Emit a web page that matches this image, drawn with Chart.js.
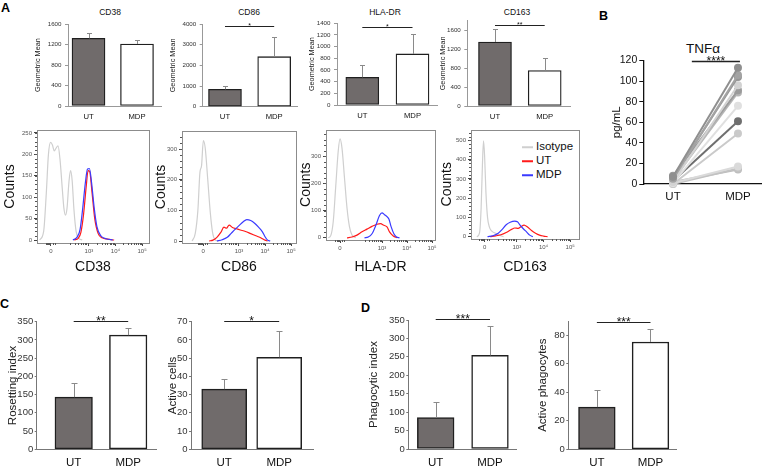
<!DOCTYPE html>
<html>
<head>
<meta charset="utf-8">
<script src="https://cdn.jsdelivr.net/npm/chart.js@4.4.1/dist/chart.umd.min.js"></script>
<style>
body { margin:0; width:771px; height:468px; position:relative; background:#fff; overflow:hidden;
  font-family:"Liberation Sans", Arial, sans-serif; color:#111; }
.cv { position:absolute; }
.t { position:absolute; transform:translate(-50%,-50%); white-space:nowrap; line-height:1; color:#111; }
.panel { position:absolute; font-weight:bold; font-size:12.5px; line-height:1; color:#000; }
.leg { position:absolute; font-size:11.5px; line-height:1; white-space:nowrap; transform:translateY(-50%); color:#111; }
.leg i { display:inline-block; width:11px; height:2px; vertical-align:middle; margin-right:3px; }
</style>
</head>
<body>
<div class="panel" style="left:1px;top:2px">A</div>
<div class="panel" style="left:599px;top:10px">B</div>
<div class="panel" style="left:0px;top:298px">C</div>
<div class="panel" style="left:361px;top:302px">D</div>

<div class="t" style="left:110px;top:12px;font-size:8.5px">CD38</div>
<div class="t" style="left:249px;top:12px;font-size:8.5px">CD86</div>
<div class="t" style="left:385px;top:12px;font-size:8.5px">HLA-DR</div>
<div class="t" style="left:517px;top:12px;font-size:8.5px">CD163</div>
<div class="t" style="left:703px;top:49px;font-size:13.5px">TNFα</div>

<div class="leg" style="left:522px;top:147px"><i style="background:#cfcfcf"></i>Isotype</div>
<div class="leg" style="left:522px;top:161px"><i style="background:#ff1a1a"></i>UT</div>
<div class="leg" style="left:522px;top:175px"><i style="background:#3a3aff"></i>MDP</div>

<script>
Chart.defaults.font.family = '"Liberation Sans", Arial, sans-serif';
Chart.defaults.color = '#333';

var groups = ['UT', 'MDP'];

// A - geometric mean (mean, upper error)
var cd38Mean = [1325, 1215], cd38Err = [110, 80];
var cd86Mean = [840, 2420], cd86Err = [160, 940];
var hladrMean = [475, 875], hladrErr = [210, 340];
var cd163Mean = [1350, 750], cd163Err = [265, 255];

// A - histograms, [position on biexp axis (10^3 = 3), counts]
var flowTickLabels = ['0', '10\u00b3', '10\u2074', '10\u2075'];
var cd38Iso = [[1.15,0],[1.3,20],[1.4,110],[1.48,200],[1.56,228],[1.63,222],[1.7,208],[1.77,215],[1.84,220],[1.92,185],[2.0,120],[2.06,75],[2.12,58],[2.18,75],[2.25,135],[2.31,162],[2.37,140],[2.44,70],[2.52,20],[2.62,4],[2.75,0]];
var cd38UT = [[2.45,0],[2.6,4],[2.7,18],[2.8,60],[2.9,125],[2.97,162],[3.03,160],[3.12,110],[3.22,50],[3.35,15],[3.5,5],[3.7,2],[3.95,0]];
var cd38MDP = [[2.4,0],[2.55,6],[2.67,25],[2.77,75],[2.87,135],[2.95,166],[3.02,167],[3.1,135],[3.2,75],[3.3,32],[3.45,10],[3.65,3],[3.9,0]];
var cd86Iso = [[1.2,0],[1.32,25],[1.42,100],[1.5,225],[1.56,245],[1.63,328],[1.7,305],[1.8,200],[1.9,90],[1.98,30],[2.08,4],[2.2,0]];
var cd86UT = [[1.85,0],[2.0,3],[2.15,12],[2.3,28],[2.42,45],[2.52,42],[2.62,52],[2.75,44],[2.9,40],[3.05,36],[3.25,31],[3.45,24],[3.65,17],[3.85,10],[4.0,3],[4.1,0]];
var cd86MDP = [[2.15,0],[2.35,4],[2.55,12],[2.7,25],[2.85,38],[3.0,50],[3.15,62],[3.3,70],[3.45,67],[3.6,58],[3.75,45],[3.9,30],[4.0,14],[4.1,3],[4.2,0]];
var hladrIso = [[0.85,0],[0.95,8],[1.05,60],[1.15,190],[1.25,320],[1.32,364],[1.4,330],[1.5,220],[1.6,110],[1.7,40],[1.8,10],[1.95,0]];
var hladrUT = [[1.6,0],[1.8,3],[2.0,10],[2.2,22],[2.4,32],[2.6,42],[2.8,50],[2.95,52],[3.05,47],[3.2,40],[3.3,22],[3.45,7],[3.6,0]];
var hladrMDP = [[2.3,0],[2.45,3],[2.6,15],[2.75,45],[2.9,82],[3.0,92],[3.1,85],[3.2,78],[3.28,68],[3.36,42],[3.48,14],[3.58,3],[3.7,0]];
var cd163Iso = [[1.5,0],[1.6,20],[1.66,150],[1.71,380],[1.75,497],[1.79,420],[1.84,230],[1.9,100],[1.97,50],[2.05,30],[2.2,18],[2.35,8],[2.5,0]];
var cd163UT = [[2.0,0],[2.2,4],[2.4,10],[2.6,22],[2.8,38],[2.92,45],[3.05,43],[3.15,52],[3.27,60],[3.4,50],[3.55,32],[3.7,18],[3.85,8],[4.0,3],[4.15,0]];
var cd163MDP = [[1.9,0],[2.1,5],[2.3,18],[2.45,38],[2.6,62],[2.75,75],[2.92,81],[3.02,78],[3.12,60],[3.25,40],[3.37,24],[3.48,8],[3.6,0]];

// B - TNFa pg/mL, one pair per donor
var tnfUT = [7, 5, 6, 2, 8, 4, 1, 3, 0, 1, 0, 2];
var tnfMDP = [113, 106, 104, 96, 91, 89, 76, 61, 49, 17, 15, 14];

// C / D
var rosetMean = [143, 313], rosetErr = [40, 21];
var activeMean = [33, 50.5], activeErr = [5.5, 14.5];
var phagoMean = [85, 254], phagoErr = [42, 80];
var activePhMean = [29.6, 75.3], activePhErr = [12, 9];

var utFill = '#706b6b';
var tnfShade = ['#8f8f8f','#a3a3a3','#959595','#d2d2d2','#9b9b9b','#b5b5b5','#e0e0e0','#6f6f6f','#cacaca','#dadada','#c2c2c2','#bcbcbc'];

function addCanvas(box) {
    var c = document.createElement('canvas');
    c.className = 'cv';
    c.style.left = box[0] + 'px';
    c.style.top = box[1] + 'px';
    c.width = box[2] - box[0];
    c.height = box[3] - box[1];
    c.style.width = c.width + 'px';
    c.style.height = c.height + 'px';
    document.body.appendChild(c);
    return c;
}

function margins(box, p) {
    return [p[0] - box[0], p[1] - box[1], box[2] - p[2], box[3] - p[3]];
}

// error bars + significance line
var barExtras = {
    id: 'barExtras',
    afterDatasetsDraw: function (chart, args, o) {
        var ctx = chart.ctx, xs = chart.scales.x, ys = chart.scales.y;
        ctx.save();
        if (o.mean) {
            ctx.strokeStyle = '#8a8a8a';
            ctx.lineWidth = 1;
            ctx.beginPath();
            o.mean.forEach(function (v, i) {
                var x = Math.round(xs.getPixelForValue(i)) + 0.5;
                var yTop = Math.round(ys.getPixelForValue(v + o.err[i])) + 0.5;
                ctx.moveTo(x, ys.getPixelForValue(v));
                ctx.lineTo(x, yTop);
                ctx.moveTo(x - o.cap, yTop);
                ctx.lineTo(x + o.cap, yTop);
            });
            ctx.stroke();
        }
        if (o.sig) {
            var y = Math.round(ys.getPixelForValue(o.sig.y)) + 0.5;
            var x0 = xs.getPixelForValue(o.sig.from), x1 = xs.getPixelForValue(o.sig.to);
            ctx.strokeStyle = '#222';
            ctx.lineWidth = o.sig.lw || 1;
            ctx.beginPath();
            ctx.moveTo(x0, y);
            ctx.lineTo(x1, y);
            ctx.stroke();
            ctx.fillStyle = '#111';
            ctx.font = o.sig.size + 'px "Liberation Sans", Arial, sans-serif';
            ctx.textAlign = 'center';
            ctx.textBaseline = 'alphabetic';
            ctx.fillText(o.sig.text, (x0 + x1) / 2, y + 0.42 * o.sig.size - 1.5);
        }
        ctx.restore();
    }
};

// box + minor ticks of the flow plots
var flowFrame = {
    id: 'flowFrame',
    beforeDatasetsDraw: function (chart, args, o) {
        var a = chart.chartArea, ctx = chart.ctx, xs = chart.scales.x, ys = chart.scales.y;
        ctx.save();
        ctx.strokeStyle = '#8c8c8c';
        ctx.lineWidth = 1;
        ctx.strokeRect(Math.round(a.left) + 0.5, Math.round(a.top) + 0.5, Math.round(a.right - a.left), Math.round(a.bottom - a.top));
        ctx.strokeStyle = '#555';
        ctx.beginPath();
        for (var v = o.yMinor; v < ys.max; v += o.yMinor) {
            var y = Math.round(ys.getPixelForValue(v)) + 0.5;
            ctx.moveTo(a.left, y);
            ctx.lineTo(a.left - 2, y);
        }
        var xm = [o.zero - 0.2, o.zero - 0.14, o.zero - 0.1, o.zero - 0.07, o.zero - 0.04, o.zero + 0.08, o.zero + 0.16];
        for (var d = 2; d <= 4; d++) {
            for (var k = 2; k <= 9; k++) {
                var p = d + Math.log10(k);
                if (p > o.zero + 0.3) xm.push(p);
            }
        }
        xm.forEach(function (v) {
            var x = Math.round(xs.getPixelForValue(v)) + 0.5;
            ctx.moveTo(x, a.bottom);
            ctx.lineTo(x, a.bottom + 2);
        });
        ctx.stroke();
        ctx.restore();
    }
};

function barChart(s) {
    var m = margins(s.box, s.plot);
    var c = addCanvas(s.box);
    return new Chart(c, {
        type: 'bar',
        data: {
            datasets: [{
                data: s.mean.map(function (v, i) { return { x: i, y: v }; }),
                backgroundColor: [utFill, '#ffffff'],
                borderColor: '#1f1f1f',
                borderWidth: s.bw,
                borderSkipped: false,
                barThickness: s.barW
            }]
        },
        options: {
            responsive: false,
            animation: false,
            events: [],
            layout: { padding: { left: 0, top: m[1], right: m[2], bottom: 0 } },
            plugins: {
                legend: { display: false },
                tooltip: { enabled: false },
                barExtras: { mean: s.mean, err: s.err, cap: s.cap, sig: s.sig }
            },
            scales: {
                x: {
                    type: 'linear', min: s.xr[0], max: s.xr[1], offset: false,
                    afterFit: function (sc) { sc.height = m[3]; },
                    afterBuildTicks: function (sc) { sc.ticks = [{ value: 0 }, { value: 1 }]; },
                    grid: { display: false, drawTicks: false },
                    border: { color: s.axis, width: 1 },
                    ticks: {
                        padding: s.xPad, color: '#111', font: { size: s.catSize },
                        autoSkip: false, maxRotation: 0,
                        callback: function (v) { return groups[v]; }
                    }
                },
                y: {
                    min: 0, max: s.yMax,
                    afterFit: function (sc) { sc.width = m[0]; },
                    ticks: { stepSize: s.step, padding: s.yPad, font: { size: s.tickSize }, color: '#333',
                        format: { useGrouping: false } },
                    grid: { drawOnChartArea: false, tickLength: s.tl, color: s.axis },
                    border: { color: s.axis },
                    title: {
                        display: true, text: s.yTitle, color: '#222',
                        font: { size: s.titleSize }, padding: { top: s.titlePad, bottom: 0 }
                    }
                }
            }
        },
        plugins: [barExtras]
    });
}

function flowChart(s) {
    var m = margins(s.box, s.plot);
    var c = addCanvas(s.box);
    var sets = [[s.mdp, '#3a3aff'], [s.ut, '#ff1a1a'], [s.iso, '#cfcfcf']];
    return new Chart(c, {
        type: 'line',
        data: {
            datasets: sets.map(function (d) {
                return {
                    data: d[0].map(function (q) { return { x: q[0], y: q[1] }; }),
                    borderColor: d[1], borderWidth: 1.2, pointRadius: 0,
                    cubicInterpolationMode: 'monotone', fill: false
                };
            })
        },
        options: {
            responsive: false,
            animation: false,
            events: [],
            layout: { padding: { left: 0, top: m[1], right: m[2], bottom: 0 } },
            plugins: {
                legend: { display: false },
                tooltip: { enabled: false },
                flowFrame: { yMinor: s.yMinor, zero: s.zero }
            },
            scales: {
                x: {
                    type: 'linear', min: s.xr[0], max: s.xr[1],
                    afterFit: function (sc) { sc.height = m[3]; },
                    afterBuildTicks: function (sc) {
                        sc.ticks = [s.zero, 3, 4, 5].map(function (v) { return { value: v }; });
                    },
                    ticks: {
                        autoSkip: false, maxRotation: 0, padding: 2, font: { size: 6 }, color: '#555',
                        callback: function (v, i) { return flowTickLabels[i]; }
                    },
                    grid: { drawOnChartArea: false, tickLength: 3, color: '#444' },
                    border: { display: false },
                    title: {
                        display: true, text: s.marker, color: '#111',
                        font: { size: 14 }, padding: { top: 0, bottom: s.xtPad }
                    }
                },
                y: {
                    min: s.yr[0], max: s.yr[1],
                    afterFit: function (sc) { sc.width = m[0]; },
                    afterBuildTicks: function (sc) {
                        sc.ticks = s.yTicks.map(function (v) { return { value: v }; });
                    },
                    ticks: { padding: 2, font: { size: 6 }, color: '#555' },
                    grid: { drawOnChartArea: false, tickLength: 3, color: '#444' },
                    border: { display: false },
                    title: {
                        display: true, text: 'Counts', color: '#111',
                        font: { size: 14 }, padding: { top: s.ytPad, bottom: 0 }
                    }
                }
            }
        },
        plugins: [flowFrame]
    });
}

// top row: geometric mean bars
var topStyle = { bw: 1.3, cap: 2.5, catSize: 7.7, tickSize: 6.2, titleSize: 7.3, axis: '#999', xPad: 6, yPad: 3.5, tl: 3, barW: 33 };
function topBars(extra) { return barChart(Object.assign({}, topStyle, extra, { yTitle: 'Geometric Mean' })); }

topBars({ box: [30, 8, 166, 124], plot: [68, 24.3, 161, 106], xr: [-0.423, 1.495], yMax: 1600, step: 200,
    mean: cd38Mean, err: cd38Err, titlePad: 4 });
topBars({ box: [165, 8, 300, 124], plot: [202.7, 24, 297.7, 106.7], xr: [-0.453, 1.478], yMax: 4000, step: 500,
    mean: cd86Mean, err: cd86Err, titlePad: 4, sig: { text: '*', from: 0, to: 1, y: 3900, size: 7 } });
topBars({ box: [300, 8, 440, 124], plot: [337, 23.3, 437, 105], xr: [-0.504, 1.488], yMax: 1400, step: 200,
    mean: hladrMean, err: hladrErr, titlePad: 8, sig: { text: '*', from: 0, to: 1, y: 1342, size: 7 } });
topBars({ box: [435, 6, 575, 124], plot: [467.3, 20.7, 570, 106], xr: [-0.557, 1.509], yMax: 1800, step: 200,
    mean: cd163Mean, err: cd163Err, titlePad: 4, sig: { text: '**', from: 0, to: 1, y: 1709, size: 7 } });

// histograms
flowChart({ box: [0, 124, 160, 282], plot: [37, 130, 149, 243], xr: [1.05, 5.26], yr: [-7, 257], zero: 1.57,
    yTicks: [0, 50, 100, 150, 200, 250], yMinor: 10, iso: cd38Iso, ut: cd38UT, mdp: cd38MDP,
    marker: 'CD38', ytPad: 2.1, xtPad: 6.6 });
flowChart({ box: [150, 124, 305, 282], plot: [182, 131, 296, 243], xr: [0.81, 5.19], yr: [-6.5, 359], zero: 1.62,
    yTicks: [0, 100, 200, 300], yMinor: 20, iso: cd86Iso, ut: cd86UT, mdp: cd86MDP,
    marker: 'CD86', ytPad: 2.6, xtPad: 6.6 });
flowChart({ box: [295, 124, 445, 282], plot: [326, 129, 435, 240], xr: [0.76, 5.12], yr: [-8, 398], zero: 1.32,
    yTicks: [0, 100, 200, 300], yMinor: 20, iso: hladrIso, ut: hladrUT, mdp: hladrMDP,
    marker: 'HLA-DR', ytPad: 2.6, xtPad: 6.6 });
flowChart({ box: [435, 124, 590, 282], plot: [471, 129, 579, 239], xr: [1.28, 5.33], yr: [-12, 556], zero: 1.79,
    yTicks: [0, 100, 200, 300, 400, 500], yMinor: 20, iso: cd163Iso, ut: cd163UT, mdp: cd163MDP,
    marker: 'CD163', ytPad: 3.6, xtPad: 6.6 });

// B: TNFa paired lines
(function () {
    var box = [598, 40, 771, 212], plot = [643.3, 60.5, 761.7, 184];
    var m = margins(box, plot);
    var c = addCanvas(box);
    new Chart(c, {
        type: 'line',
        data: {
            datasets: tnfUT.map(function (u, i) {
                return {
                    data: [{ x: 0, y: u }, { x: 1, y: tnfMDP[i] }],
                    borderColor: tnfShade[i], backgroundColor: tnfShade[i],
                    pointBackgroundColor: tnfShade[i], pointBorderColor: tnfShade[i],
                    pointRadius: 3, borderWidth: 2, clip: false
                };
            })
        },
        options: {
            responsive: false,
            animation: false,
            events: [],
            layout: { padding: { left: 0, top: m[1], right: m[2], bottom: 0 } },
            plugins: {
                legend: { display: false },
                tooltip: { enabled: false },
                barExtras: { sig: { text: '****', from: 0.29, to: 1.03, y: 120, size: 12, lw: 1.5 } }
            },
            scales: {
                x: {
                    type: 'linear', min: -0.457, max: 1.365,
                    afterFit: function (sc) { sc.height = m[3]; },
                    afterBuildTicks: function (sc) { sc.ticks = [{ value: 0 }, { value: 1 }]; },
                    grid: { display: false, drawTicks: false },
                    border: { color: '#111', width: 1.3 },
                    ticks: { padding: 6.4, color: '#111', font: { size: 11.5 }, callback: function (v) { return groups[v]; } }
                },
                y: {
                    min: 0, max: 120,
                    afterFit: function (sc) { sc.width = m[0]; },
                    ticks: { stepSize: 20, padding: 2, color: '#111', font: { size: 10.5 } },
                    grid: { drawOnChartArea: false, tickLength: 4, color: '#111' },
                    border: { color: '#111', width: 1.3 },
                    title: { display: true, text: 'pg/mL', color: '#111', font: { size: 11.5 }, padding: { top: 12, bottom: 0 } }
                }
            }
        },
        plugins: [barExtras]
    });
})();

// C and D
var lowStyle = { bw: 1.5, cap: 3, catSize: 11.5, tickSize: 9.5, titleSize: 11.5, axis: '#777', xPad: 6.8, yPad: 1.5, tl: 2 };
function lowBars(extra) { return barChart(Object.assign({}, lowStyle, extra)); }

lowBars({ box: [0, 300, 162, 468], plot: [36.7, 321.7, 156.7, 449.3], xr: [-0.679, 1.523], yMax: 350, step: 50,
    barW: 37.5, mean: rosetMean, err: rosetErr, yTitle: 'Rosetting index', titlePad: 5.5,
    sig: { text: '**', from: 0, to: 1, y: 352, size: 12 } });
lowBars({ box: [165, 300, 318, 468], plot: [191, 321.7, 313, 449.3], xr: [-0.604, 1.615], yMax: 70, step: 10,
    barW: 45, mean: activeMean, err: activeErr, yTitle: 'Active cells', titlePad: 1,
    sig: { text: '*', from: 0, to: 1, y: 70.3, size: 12 } });
lowBars({ box: [362, 300, 522, 468], plot: [408.3, 320, 516.7, 449], xr: [-0.505, 1.492], yMax: 350, step: 50,
    barW: 36.7, mean: phagoMean, err: phagoErr, yTitle: 'Phagocytic index', titlePad: 5,
    sig: { text: '***', from: 0, to: 1, y: 352, size: 12 } });
lowBars({ box: [530, 300, 682, 468], plot: [568.3, 321, 676.7, 449.3], xr: [-0.533, 1.489], yMax: 90, step: 10,
    barW: 36.7, mean: activePhMean, err: activePhErr, yTitle: 'Active phagocytes', titlePad: 5.5,
    sig: { text: '***', from: 0, to: 1, y: 89.6, size: 12 } });
</script>
</body>
</html>
